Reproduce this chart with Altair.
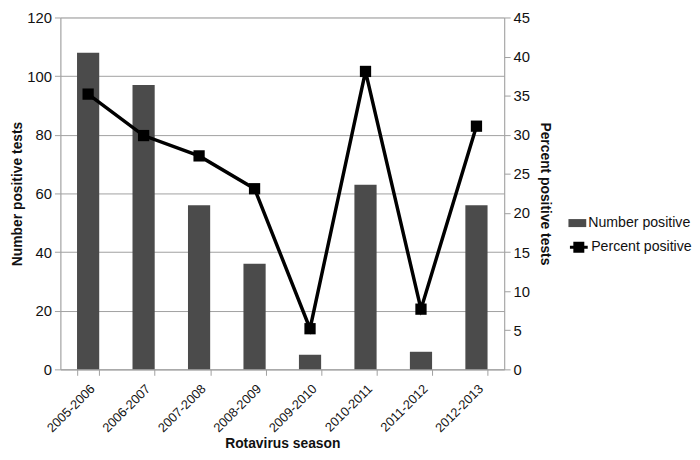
import altair as alt
import pandas as pd

seasons = ["2005-2006", "2006-2007", "2007-2008", "2008-2009",
           "2009-2010", "2010-2011", "2011-2012", "2012-2013"]
number_positive = [108, 97, 56, 36, 5, 63, 6, 56]
percent_positive = [35.2, 29.9, 27.3, 23.1, 5.2, 38.1, 7.7, 31.1]

df = pd.DataFrame({
    "season": seasons,
    "number": number_positive,
    "percent": percent_positive,
    "bar_series": ["Number positive"] * len(seasons),
    "line_series": ["Percent positive"] * len(seasons),
})

FONT = "Liberation Sans"
GRAY = "#a0a0a0"
TXT = "#111111"

x_enc = alt.X(
    "season:N",
    sort=seasons,
    scale=alt.Scale(paddingInner=0.6, paddingOuter=0.3),
    axis=alt.Axis(
        title="Rotavirus season",
        titleFontWeight="bold",
        titleFontSize=14,
        titleFont=FONT,
        titleColor=TXT,
        titlePadding=2,
        labelAngle=-45,
        labelFontSize=13,
        labelFont=FONT,
        labelColor=TXT,
        domainColor=GRAY,
        tickColor=GRAY,
        tickSize=6,
        tickBand="extent",
        grid=False,
        labelPadding=7,
    ),
)

bars = alt.Chart(df).mark_bar(color="#4b4b4b").encode(
    x=x_enc,
    y=alt.Y(
        "number:Q",
        scale=alt.Scale(domain=[0, 120]),
        axis=alt.Axis(
            title="Number positive tests",
            titleFontWeight="bold",
            titleFontSize=14,
            titleFont=FONT,
            titleColor=TXT,
            titlePadding=2,
            values=[0, 20, 40, 60, 80, 100, 120],
            labelFontSize=15,
            labelFont=FONT,
            labelColor=TXT,
            labelPadding=3,
            grid=True,
            gridColor=GRAY,
            gridWidth=1,
            domainColor=GRAY,
            tickColor=GRAY,
            tickSize=6,
        ),
    ),
    color=alt.Color(
        "bar_series:N",
        scale=alt.Scale(domain=["Number positive"], range=["#4b4b4b"]),
        legend=alt.Legend(
            title=None,
            orient="none",
            legendX=514,
            legendY=199,
            symbolType="M-1,-0.45L1,-0.45L1,0.45L-1,0.45Z",
            symbolSize=324,
            symbolStrokeWidth=0,
            labelFontSize=14.3,
            labelFont=FONT,
            labelColor=TXT,
            labelOffset=2,
        ),
    ),
)

line = alt.Chart(df).mark_line(
    strokeWidth=3.5,
    point=alt.OverlayMarkDef(shape="square", size=130, filled=True, color="black"),
).encode(
    x=x_enc,
    y=alt.Y(
        "percent:Q",
        scale=alt.Scale(domain=[0, 45]),
        axis=alt.Axis(
            title="Percent positive tests",
            orient="right",
            titleFontWeight="bold",
            titleFontSize=14,
            titleFont=FONT,
            titleColor=TXT,
            titlePadding=8,
            values=[0, 5, 10, 15, 20, 25, 30, 35, 40, 45],
            labelFontSize=15,
            labelFont=FONT,
            labelColor=TXT,
            labelPadding=3,
            grid=False,
            domainColor=GRAY,
            tickColor=GRAY,
            tickSize=6,
        ),
    ),
    color=alt.Color(
        "line_series:N",
        scale=alt.Scale(domain=["Percent positive"], range=["black"]),
        legend=alt.Legend(
            title=None,
            orient="none",
            legendX=514,
            legendY=222,
            symbolType="M-1,0L1,0M-0.45,-0.45L0.45,-0.45L0.45,0.45L-0.45,0.45Z",
            symbolSize=324,
            symbolStrokeWidth=3,
            symbolFillColor="black",
            symbolStrokeColor="black",
            labelFontSize=14.3,
            labelFont=FONT,
            labelColor=TXT,
            labelOffset=2,
        ),
    ),
)

chart = alt.layer(bars, line).resolve_scale(
    y="independent", color="independent"
).resolve_legend(color="independent").properties(
    width=449,
    height=356,
    autosize=alt.AutoSizeParams(type="none"),
    padding={"left": 53, "top": 7, "right": 190, "bottom": 81},
).configure_view(stroke=None).configure(font=FONT)

chart.save("out.html", embed_options={"renderer": "svg", "actions": False})
